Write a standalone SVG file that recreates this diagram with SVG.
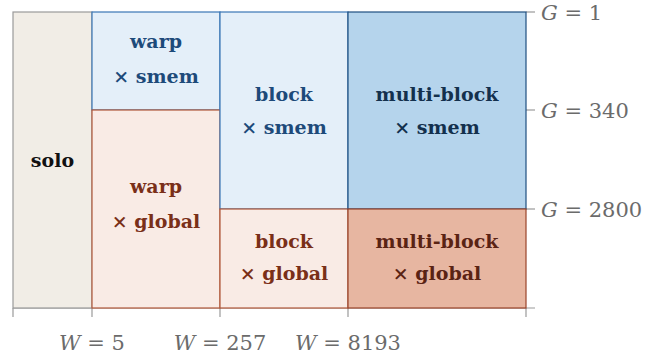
<svg xmlns="http://www.w3.org/2000/svg" width="660" height="360" viewBox="0 0 660 360">
<style>
.lbl{font-family:"DejaVu Serif","Liberation Serif",serif;font-weight:bold;font-size:19px;text-anchor:middle}
.ax{font-family:"DejaVu Serif","Liberation Serif",serif;font-size:21px;fill:#6b6b6b}
.ax tspan.i{font-style:italic}
.tick{stroke:#9a9a9a;stroke-width:1.2}
.smem{fill:#e4eff9;stroke:#3a76b5;stroke-width:1.2}
.glob{fill:#f9ebe5;stroke:#b0583a;stroke-width:1.2}
.bs{fill:#1d4a7a}
.bg{fill:#7a2f18}
</style>
<rect width="660" height="360" fill="#fff"/>
<g id="axes">
<line class="tick" x1="13" y1="308" x2="535" y2="308"/>
<line class="tick" x1="13" y1="308" x2="13" y2="317"/>
<line class="tick" x1="92" y1="308" x2="92" y2="317"/>
<line class="tick" x1="220" y1="308" x2="220" y2="317"/>
<line class="tick" x1="348" y1="308" x2="348" y2="317"/>
<line class="tick" x1="526" y1="308" x2="526" y2="317"/>
<line class="tick" x1="526" y1="12" x2="535" y2="12"/>
<line class="tick" x1="526" y1="110" x2="535" y2="110"/>
<line class="tick" x1="526" y1="209" x2="535" y2="209"/>
<text class="ax" x="541" y="20"><tspan class="i">G</tspan> = 1</text>
<text class="ax" x="541" y="118"><tspan class="i">G</tspan> = 340</text>
<text class="ax" x="541" y="217"><tspan class="i">G</tspan> = 2800</text>
<text class="ax" x="92" y="350" text-anchor="middle"><tspan class="i">W</tspan> = 5</text>
<text class="ax" x="220" y="350" text-anchor="middle"><tspan class="i">W</tspan> = 257</text>
<text class="ax" x="348" y="350" text-anchor="middle"><tspan class="i">W</tspan> = 8193</text>
</g>
<g id="solo">
<rect x="13" y="12" width="79" height="296" fill="#f1ede6" stroke="#9a9a9a" stroke-width="1.2"/>
<text class="lbl" x="52.5" y="167" fill="#111">solo</text>
</g>
<g id="warp-smem">
<rect class="smem" x="92" y="12" width="128" height="98"/>
<text class="lbl bs" x="156" y="48">warp</text>
<text class="lbl bs" x="156" y="83">× smem</text>
</g>
<g id="warp-global">
<rect class="glob" x="92" y="110" width="128" height="198"/>
<text class="lbl bg" x="156" y="193">warp</text>
<text class="lbl bg" x="156" y="228">× global</text>
</g>
<g id="block-smem">
<rect class="smem" x="220" y="12" width="128" height="197"/>
<text class="lbl bs" x="284" y="101">block</text>
<text class="lbl bs" x="284" y="134">× smem</text>
</g>
<g id="block-global">
<rect class="glob" x="220" y="209" width="128" height="99"/>
<text class="lbl bg" x="284" y="248">block</text>
<text class="lbl bg" x="284" y="280">× global</text>
</g>
<g id="multi-smem">
<rect x="348" y="12" width="178" height="197" fill="#b5d4ec" stroke="#1f4f80" stroke-width="1.2"/>
<text class="lbl" x="437" y="101" fill="#13304d">multi-block</text>
<text class="lbl" x="437" y="134" fill="#13304d">× smem</text>
</g>
<g id="multi-global">
<rect x="348" y="209" width="178" height="99" fill="#e7b6a1" stroke="#99432a" stroke-width="1.2"/>
<text class="lbl" x="437" y="248" fill="#5a2314">multi-block</text>
<text class="lbl" x="437" y="280" fill="#5a2314">× global</text>
</g>
</svg>
